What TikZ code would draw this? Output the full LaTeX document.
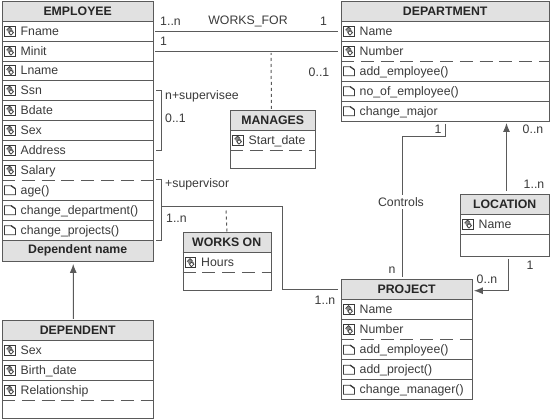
\documentclass[tikz,border=0pt]{standalone}
\usepackage{fontspec}
\setmainfont{Liberation Sans}
\usetikzlibrary{arrows.meta}
\definecolor{ink}{HTML}{3A3A3A}
\definecolor{edge}{HTML}{5A5A5A}
\definecolor{head}{HTML}{E1E1E1}
\tikzset{
  basefont/.style={font=\fontsize{12.3}{15}\selectfont,text=ink},
  rowcell/.style={rectangle,inner sep=0pt,anchor=north west},
  headcell/.style={rowcell,fill=head,text=black!85,font=\fontsize{12.3}{15}\bfseries\selectfont},
  rowtext/.style={basefont,inner sep=0pt,anchor=base west},
  lab/.style={basefont,inner sep=0pt},
  classbox/.style={rectangle,draw=edge,line width=1pt,inner sep=0pt,anchor=north west},
  sepline/.style={draw=edge,line width=0.9pt},
  dashsep/.style={draw=edge,line width=0.9pt,dash pattern=on 13pt off 6.8pt},
  conn/.style={draw=edge,line width=1pt},
  assocdash/.style={draw=edge,line width=1pt,dash pattern=on 3pt off 3pt},
  tip/.style={-{Latex[length=9pt,width=7pt]},draw=edge,line width=1pt},
  iconline/.style={draw=ink,line width=0.7pt}
}
% id, x, y, w, h, text
\newcommand\hrow[6]{\node[headcell,minimum width=#4pt,minimum height=#5pt] (#1) at (#2,#3) {#6};}
\newcommand\cellbox[5]{\node[rowcell,minimum width=#4pt,minimum height=#5pt] (#1) at (#2,#3) {};}
\newcommand\atxt[2]{\node[rowtext] (#1-t) at ([xshift=18.5pt,yshift=-4.3pt]#1.west) {#2};}
\newcommand\attrow[6]{\cellbox{#1}{#2}{#3}{#4}{#5}\atxt{#1}{#6}%
  \begin{scope}[shift={(#1.west)}]
    \draw[iconline] (2.5,-5) rectangle (13,5);
    \fill[ink!60] (5,-1) -- (8,-4) -- (11.5,0) -- (8,4) -- cycle;
    \draw[iconline,fill=white] (7,1.5) -- (9,-0.5) -- (11.5,1.5) -- (9,4) -- cycle;
    \draw[iconline] (4.5,-1) -- (7.5,-4) -- (10,-2);
  \end{scope}}
\newcommand\oprow[6]{\cellbox{#1}{#2}{#3}{#4}{#5}\atxt{#1}{#6}%
  \begin{scope}[shift={(#1.west)}]
    \draw[iconline] (2.5,-4.5) -- (9.5,-4.5) -- (13.5,-1) -- (13.5,4.5) -- (2.5,4.5) -- cycle;
    \draw[draw=ink,line width=1.2pt] (9,-4.5) -- (13.5,-1.5);
  \end{scope}}
\newcommand\rsep[1]{\path[sepline] (#1.south west) -- (#1.south east);}
\newcommand\dsep[1]{\path[dashsep] (#1.south west) -- (#1.south east);}
\begin{document}
\begin{tikzpicture}[x=1pt,y=-1pt]
\useasboundingbox (0,0) rectangle (550,419);
\fill[white] (0,0) rectangle (550,419);

% EMPLOYEE
\hrow{empH}{2}{1}{151}{20}{EMPLOYEE}
\attrow{empFname}{2}{21}{151}{20}{Fname}
\attrow{empMinit}{2}{41}{151}{20}{Minit}
\attrow{empLname}{2}{61}{151}{19}{Lname}
\attrow{empSsn}{2}{80}{151}{20}{Ssn}
\attrow{empBdate}{2}{100}{151}{20}{Bdate}
\attrow{empSex}{2}{120}{151}{20}{Sex}
\attrow{empAddress}{2}{140}{151}{20}{Address}
\attrow{empSalary}{2}{160}{151}{20}{Salary}
\oprow{empAge}{2}{180}{151}{20}{age()}
\oprow{empDept}{2}{200}{151}{20}{change\_department()}
\oprow{empProj}{2}{220}{151}{20}{change\_projects()}
\hrow{empF}{2}{240}{151}{21}{Dependent name}
\foreach \r in {empH,empFname,empMinit,empLname,empSsn,empBdate,empSex,empAddress,empAge,empDept,empProj}{\rsep{\r}}
\dsep{empSalary}
\node[classbox,minimum width=151pt,minimum height=260pt] (employee) at (2,1) {};

% DEPARTMENT
\hrow{depH}{341}{1}{208}{20}{DEPARTMENT}
\attrow{depName}{341}{21}{208}{20}{Name}
\attrow{depNumber}{341}{41}{208}{20}{Number}
\oprow{depAdd}{341}{61}{208}{20}{add\_employee()}
\oprow{depNo}{341}{81}{208}{20}{no\_of\_employee()}
\oprow{depMajor}{341}{101}{208}{20}{change\_major}
\foreach \r in {depH,depName,depAdd,depNo}{\rsep{\r}}
\dsep{depNumber}
\node[classbox,minimum width=208pt,minimum height=120pt] (department) at (341,1) {};

% MANAGES
\hrow{mgrH}{230}{110}{85}{20}{MANAGES}
\attrow{mgrDate}{230}{130}{85}{20}{Start\_date}
\rsep{mgrH}\dsep{mgrDate}
\node[classbox,minimum width=85pt,minimum height=58pt] (manages) at (230,110) {};

% WORKS ON
\hrow{wonH}{182.5}{232.5}{88}{20}{WORKS ON}
\attrow{wonHours}{182.5}{252.5}{88}{20}{Hours}
\rsep{wonH}\dsep{wonHours}
\node[classbox,minimum width=88pt,minimum height=58pt] (workson) at (182.5,232.5) {};

% LOCATION
\hrow{locH}{460}{194}{89}{20}{LOCATION}
\attrow{locName}{460}{214}{89}{20}{Name}
\rsep{locH}\rsep{locName}
\node[classbox,minimum width=89pt,minimum height=62pt] (location) at (460,194) {};

% PROJECT
\hrow{prjH}{341}{279.5}{131}{20}{PROJECT}
\attrow{prjName}{341}{299.5}{131}{20}{Name}
\attrow{prjNumber}{341}{319.5}{131}{20}{Number}
\oprow{prjAdd}{341}{339.5}{131}{20}{add\_employee()}
\oprow{prjProj}{341}{359.5}{131}{20}{add\_project()}
\oprow{prjMgr}{341}{379.5}{131}{20}{change\_manager()}
\foreach \r in {prjH,prjName,prjAdd,prjProj}{\rsep{\r}}
\dsep{prjNumber}
\node[classbox,minimum width=131pt,minimum height=120pt] (project) at (341,279.5) {};

% DEPENDENT
\hrow{dptH}{2}{320}{151}{20}{DEPENDENT}
\attrow{dptSex}{2}{340}{151}{20}{Sex}
\attrow{dptBirth}{2}{360}{151}{20}{Birth\_date}
\attrow{dptRel}{2}{380}{151}{20}{Relationship}
\foreach \r in {dptH,dptSex,dptBirth}{\rsep{\r}}
\dsep{dptRel}
\node[classbox,minimum width=151pt,minimum height=98pt] (dependent) at (2,320) {};

% Connectors
\path[conn] ([xshift=2pt]empFname.east) -- ([xshift=-3pt]depName.west);
\path[conn] ([xshift=2pt]empMinit.east) -- ([xshift=-3pt]depNumber.west);
\coordinate (mgrTop) at (271,53);
\path[assocdash] ([xshift=-1.5pt,yshift=1pt]manages.north) -- (mgrTop);
\path[conn] ([xshift=3pt]empSsn.east) -- ++(5,0) |- ([xshift=3pt]empAddress.east);
\path[conn] ([xshift=3pt]empAge.north east) -- ++(5,0) |- ([xshift=3pt]empProj.south east);
\coordinate (supStart) at (161,207);
\coordinate (supBend) at (282,207);
\path[conn] (supStart) -- (supBend) |- ([xshift=-3pt]prjH.west);
\coordinate (wonTop) at (226,210);
\path[assocdash] ([yshift=1pt]workson.north) -- (wonTop);
\coordinate (ctlTop) at (445,124);
\coordinate (ctlA) at (445,137);
\coordinate (ctlB) at (402.5,137);
\coordinate (ctlEnd) at (402.5,277);
\path[conn] (ctlTop) -- (ctlA) -- (ctlB) -- (ctlEnd);
\coordinate (locTop) at (506.5,191);
\coordinate (depBot) at (506.5,123);
\path[tip] (locTop) -- (depBot);
\coordinate (locBot) at (508,259);
\path[tip] (locBot) |- ([xshift=1.5pt,yshift=-1pt]prjH.east);
\path[tip] ([xshift=-4.5pt,yshift=1pt]dependent.north) -- ([xshift=-4.5pt,yshift=-2.5pt]empF.south);

% Labels
\node[lab] (l1) at (170.5,21) {1..n};
\node[lab] (l2) at (248,21) {WORKS\_FOR};
\node[lab] (l3) at (323.5,21) {1};
\node[lab] (l4) at (163.5,41) {1};
\node[lab] (l5) at (319,72) {0..1};
\node[lab,anchor=west] (l6) at (165,96) {n+supervisee};
\node[lab,anchor=west] (l7) at (165,118) {0..1};
\node[lab,anchor=west] (l8) at (165,184) {+supervisor};
\node[lab,anchor=west] (l9) at (166,218) {1..n};
\node[lab] (l10) at (438,129) {1};
\node[lab] (l11) at (533,129) {0..n};
\node[lab] (l12) at (534,184) {1..n};
\node[lab,fill=white,inner ysep=2pt] (l13) at (401,202) {Controls};
\node[lab] (l14) at (392,270) {n};
\node[lab] (l15) at (325,300) {1..n};
\node[lab] (l16) at (487,279) {0..n};
\node[lab] (l17) at (530,265) {1};
\end{tikzpicture}
\end{document}
